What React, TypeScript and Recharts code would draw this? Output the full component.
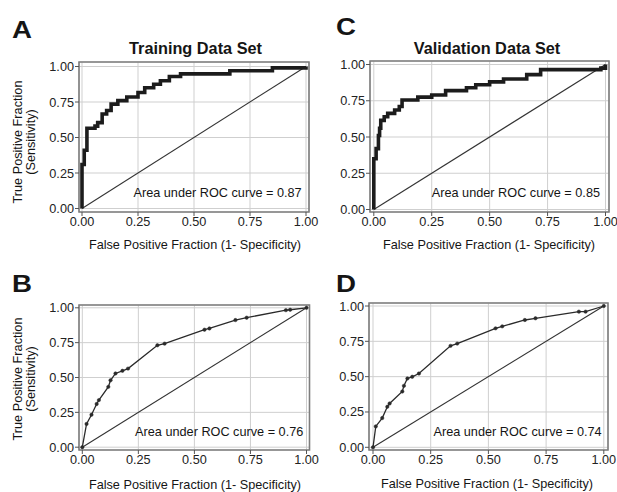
import React from 'react';
import { LineChart, Line, XAxis, YAxis, CartesianGrid, ReferenceArea } from 'recharts';

// ---- Data ----
const axisTicks = [0, 0.25, 0.5, 0.75, 1];
const panelLetters = ['A', 'B', 'C', 'D'];
const panelTitles = ['Training Data Set', 'Validation Data Set'];
const xAxisTitle = 'False Positive Fraction (1- Specificity)';
const yAxisTitle1 = 'True Positive Fraction';
const yAxisTitle2 = '(Sensitivity)';
const aucValues = [0.87, 0.76, 0.85, 0.74];

// Panel A: training set, step ROC (false positive fraction, true positive fraction)
const aFpr = [0, 0, 0.01, 0.022, 0.058, 0.07, 0.09, 0.11, 0.13, 0.16, 0.2, 0.25, 0.28, 0.32, 0.35, 0.39, 0.44, 0.66, 0.85, 1.0];
const aTpr = [0, 0.31, 0.41, 0.565, 0.58, 0.605, 0.665, 0.69, 0.735, 0.76, 0.785, 0.817, 0.85, 0.875, 0.9, 0.93, 0.948, 0.97, 0.99, 1.0];

// Panel C: validation set, step ROC
const cFpr = [0, 0, 0.01, 0.02, 0.025, 0.03, 0.045, 0.06, 0.09, 0.11, 0.122, 0.19, 0.25, 0.31, 0.4, 0.44, 0.5, 0.56, 0.66, 0.72, 0.98, 1.0];
const cTpr = [0, 0.35, 0.42, 0.51, 0.56, 0.615, 0.64, 0.663, 0.686, 0.71, 0.755, 0.775, 0.79, 0.82, 0.84, 0.86, 0.88, 0.9, 0.93, 0.965, 0.975, 1.0];

// Panel B: training set, second model
const bFpr = [0, 0.019, 0.041, 0.064, 0.074, 0.116, 0.126, 0.148, 0.179, 0.204, 0.335, 0.367, 0.545, 0.567, 0.683, 0.733, 0.908, 0.927, 1.0];
const bTpr = [0, 0.167, 0.233, 0.31, 0.338, 0.433, 0.48, 0.529, 0.548, 0.564, 0.731, 0.743, 0.843, 0.852, 0.912, 0.929, 0.983, 0.986, 1.0];

// Panel D: validation set, second model
const dFpr = [0, 0.012, 0.04, 0.062, 0.072, 0.127, 0.134, 0.149, 0.17, 0.199, 0.336, 0.365, 0.531, 0.56, 0.658, 0.704, 0.892, 0.921, 1.0];
const dTpr = [0, 0.148, 0.207, 0.287, 0.31, 0.395, 0.435, 0.487, 0.499, 0.522, 0.718, 0.734, 0.842, 0.856, 0.901, 0.913, 0.96, 0.96, 1.0];

const diagFpr = [0, 1];
const diagTpr = [0, 1];

const FONT = '"Liberation Sans", Arial, Helvetica, sans-serif';

const toPts = (xs: number[], ys: number[]) => xs.map((x, i) => ({ x, y: ys[i] }));

type PanelProps = {
  frameL: number; frameR: number; frameT: number; frameB: number;
  dataL: number; dataR: number; dataT: number; dataB: number;
  curve: { x: number; y: number }[];
  stepped: boolean;
};

const YW = 40;
const XH = 30;
const MR = 18;
const MT = 9;

function Panel(p: PanelProps) {
  const plotW = p.frameR - p.frameL;
  const plotH = p.frameB - p.frameT;
  const ux = p.dataR - p.dataL;
  const uy = p.dataB - p.dataT;
  const xDom: [number, number] = [-(p.dataL - p.frameL) / ux, 1 + (p.frameR - p.dataR) / ux];
  const yDom: [number, number] = [-(p.frameB - p.dataB) / uy, 1 + (p.dataT - p.frameT) / uy];
  const diag = toPts(diagFpr, diagTpr);
  return (
    <div style={{ position: 'absolute', left: p.frameL - YW, top: p.frameT - MT }}>
      <LineChart width={YW + plotW + MR} height={plotH + XH + MT} margin={{ top: MT, right: MR, bottom: 0, left: 0 }}>
        <CartesianGrid stroke="#cfcfcf" strokeWidth={1} />
        <XAxis
          type="number" dataKey="x" domain={xDom} ticks={axisTicks} interval={0} allowDataOverflow
          tickFormatter={(v: number) => v.toFixed(2)} height={XH} axisLine={false}
          tickSize={4} tickMargin={1} tickLine={{ stroke: '#555' }}
          tick={{ fill: '#222', fontSize: 12.7, fontFamily: FONT }}
        />
        <YAxis
          type="number" dataKey="y" domain={yDom} ticks={axisTicks} interval={0} allowDataOverflow
          tickFormatter={(v: number) => v.toFixed(2)} width={YW} axisLine={false}
          tickSize={4} tickMargin={1} tickLine={{ stroke: '#555' }}
          tick={{ fill: '#222', fontSize: 12.7, fontFamily: FONT }}
        />
        <ReferenceArea x1={xDom[0]} x2={xDom[1]} y1={yDom[0]} y2={yDom[1]} fill="none" fillOpacity={0}
          stroke="#7d7d7d" strokeWidth={1.6} ifOverflow="visible" />
        <Line data={diag} dataKey="y" type="linear" stroke="#333" strokeWidth={1.1} dot={false} isAnimationActive={false} />
        {p.stepped ? (
          <Line data={p.curve} dataKey="y" type="stepAfter" stroke="#1c1c1c" strokeWidth={3.6} dot={false}
            strokeLinejoin="miter" isAnimationActive={false} />
        ) : (
          <Line data={p.curve} dataKey="y" type="linear" stroke="#2a2a2a" strokeWidth={1.3}
            dot={{ r: 1.7, fill: '#2a2a2a', stroke: '#2a2a2a', strokeWidth: 0.5 }} isAnimationActive={false} />
        )}
      </LineChart>
    </div>
  );
}

const txt = (extra: React.CSSProperties): React.CSSProperties => ({
  position: 'absolute', fontFamily: FONT, color: '#151515', whiteSpace: 'nowrap', ...extra,
});

function Letter({ ch, x, baseline }: { ch: string; x: number; baseline: number }) {
  return (
    <svg style={{ position: 'absolute', left: x - 2, top: baseline - 22, overflow: 'visible' }} width={26} height={26}>
      <text x={2} y={22} fontFamily={FONT} fontWeight="bold" fontSize={23} fill="#151515"
        textLength={20} lengthAdjust="spacingAndGlyphs">{ch}</text>
    </svg>
  );
}

function YLabel({ cx, cy }: { cx: number; cy: number }) {
  return (
    <div style={txt({ left: cx - 80, top: cy - 13, width: 160, height: 26, lineHeight: '13px', fontSize: 12.7,
      textAlign: 'center', transform: 'rotate(-90deg)' })}>
      <div>{yAxisTitle1}</div>
      <div>{yAxisTitle2}</div>
    </div>
  );
}

function CenterText({ text, cx, cy, size, bold }: { text: string; cx: number; cy: number; size: number; bold?: boolean }) {
  return (
    <div style={txt({ left: cx - 150, top: cy - 10, width: 300, height: 20, lineHeight: '20px', fontSize: size,
      fontWeight: bold ? 'bold' : 'normal', textAlign: 'center' })}>{text}</div>
  );
}

function RightText({ text, right, cy }: { text: string; right: number; cy: number }) {
  return (
    <div style={txt({ left: right - 250, top: cy - 10, width: 250, height: 20, lineHeight: '20px', fontSize: 12.7,
      textAlign: 'right' })}>{text}</div>
  );
}

export default function App() {
  const auc = (v: number) => `Area under ROC curve = ${v.toFixed(2)}`;
  return (
    <div style={{ position: 'absolute', left: 0, top: 0, width: 617, height: 492, background: '#fff', overflow: 'hidden' }}>
      <Panel frameL={79} frameR={309} frameT={62} frameB={212} dataL={82} dataR={306} dataT={66.5} dataB={208.5}
        curve={toPts(aFpr, aTpr)} stepped />
      <Panel frameL={369.5} frameR={608.5} frameT={61} frameB={212} dataL={373.3} dataR={605} dataT={64.5} dataB={209.5}
        curve={toPts(cFpr, cTpr)} stepped />
      <Panel frameL={79} frameR={309.5} frameT={304.5} frameB={449.5} dataL={82.3} dataR={306.5} dataT={307.3} dataB={446.7}
        curve={toPts(bFpr, bTpr)} stepped={false} />
      <Panel frameL={368.5} frameR={607.5} frameT={303} frameB={450} dataL={372.5} dataR={603.3} dataT={306} dataB={447.3}
        curve={toPts(dFpr, dTpr)} stepped={false} />

      <Letter ch={panelLetters[0]} x={12} baseline={38} />
      <Letter ch={panelLetters[2]} x={336} baseline={35} />
      <Letter ch={panelLetters[1]} x={12} baseline={291.5} />
      <Letter ch={panelLetters[3]} x={336} baseline={291.5} />

      <CenterText text={panelTitles[0]} cx={195.5} cy={48} size={16.3} bold />
      <CenterText text={panelTitles[1]} cx={487} cy={48} size={16.3} bold />

      <YLabel cx={24.5} cy={141.5} />
      <YLabel cx={24.5} cy={379} />

      <CenterText text={xAxisTitle} cx={195} cy={245} size={12.7} />
      <CenterText text={xAxisTitle} cx={489} cy={245} size={12.7} />
      <CenterText text={xAxisTitle} cx={195} cy={485} size={12.7} />
      <CenterText text={xAxisTitle} cx={487} cy={484} size={12.7} />

      <RightText text={auc(aucValues[0])} right={301.7} cy={193.3} />
      <RightText text={auc(aucValues[2])} right={600} cy={192.7} />
      <RightText text={auc(aucValues[1])} right={303.3} cy={431.7} />
      <RightText text={auc(aucValues[3])} right={601.7} cy={432.3} />
    </div>
  );
}
